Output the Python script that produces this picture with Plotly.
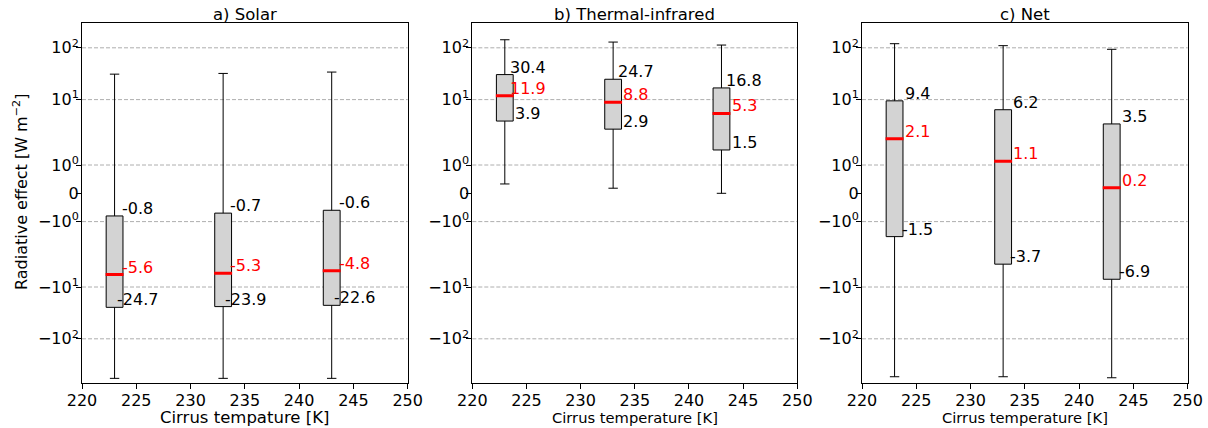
import numpy as np
import plotly.graph_objects as go

# ---------------- data ----------------
positions = [223, 233, 243]
panel_titles = ["a) Solar", "b) Thermal-infrared", "c) Net"]
xlabels = ["Cirrus tempature [K]", "Cirrus temperature [K]", "Cirrus temperature [K]"]
x_ticks = [220, 225, 230, 235, 240, 245, 250]
y_ticks = [-100, -10, -1, 0, 1, 10, 100]
y_ticktext = ["−10<sup>2</sup>", "−10<sup>1</sup>", "−10<sup>0</sup>", "0",
              "10<sup>0</sup>", "10<sup>1</sup>", "10<sup>2</sup>"]
grid_vals = [-100, -10, -1, 1, 10, 100]

solar_q1 = [-24.7, -23.9, -22.6]
solar_median = [-5.6, -5.3, -4.8]
solar_q3 = [-0.8, -0.7, -0.6]
solar_low = [-580, -580, -580]
solar_high = [31, 32, 34]

thermal_q1 = [3.9, 2.9, 1.5]
thermal_median = [11.9, 8.8, 5.3]
thermal_q3 = [30.4, 24.7, 16.8]
thermal_low = [0.33, 0.18, 0.0]
thermal_high = [143, 129, 113]

net_q1 = [-1.5, -3.7, -6.9]
net_median = [2.1, 1.1, 0.2]
net_q3 = [9.4, 6.2, 3.5]
net_low = [-540, -540, -565]
net_high = [120, 110, 93.5]

panels = [
    (solar_q1, solar_median, solar_q3, solar_low, solar_high),
    (thermal_q1, thermal_median, thermal_q3, thermal_low, thermal_high),
    (net_q1, net_median, net_q3, net_low, net_high),
]

# ---------------- custom symmetric-log-like scale ----------------
LIN = 28.3      # position of |v| = 1
P10 = 93.7      # position of |v| = 10
DEC = 51.8      # size of a decade above 10
EXP = -0.3      # shape inside the 1..10 decade


def T(v):
    v = np.asarray(v, dtype=float)
    s = np.sign(v)
    a = np.abs(v)
    out = np.where(
        a <= 1, LIN * a,
        np.where(
            a <= 10,
            LIN + (P10 - LIN) * (1 - np.power(np.maximum(a, 1e-9), EXP)) / (1 - 10 ** EXP),
            P10 + DEC * np.log10(np.maximum(a, 1e-9) / 10),
        ),
    )
    return (s * out).tolist()


W, H = 1208, 428


def px_x(p):
    return p / W


def px_y(p):
    return 1 - p / H


x_domains = [(px_x(82), px_x(407.7)), (px_x(472.3), px_x(797.3)), (px_x(862), px_x(1187.7))]
y_domain = (px_y(383.3), px_y(23.3))
y_range = [-190, 170]
FONT = "DejaVu Sans"
BOX_W = 1.55

fig = go.Figure()
annotations = []
shapes = []

for i, (q1, med, q3, lo, hi) in enumerate(panels):
    k = "" if i == 0 else str(i + 1)
    xa, ya = "x" + k, "y" + k
    fig.add_trace(go.Box(
        x=positions, q1=T(q1), median=T(med), q3=T(q3),
        lowerfence=T(lo), upperfence=T(hi),
        width=BOX_W, whiskerwidth=0.56,
        fillcolor="#d3d3d3", line=dict(color="black", width=1),
        boxpoints=False, showlegend=False, hoverinfo="skip",
        xaxis=xa, yaxis=ya,
    ))
    # red median lines
    mx, my = [], []
    for p, m in zip(positions, T(med)):
        mx += [p - BOX_W / 2 - 0.05, p + BOX_W / 2 + 0.05, None]
        my += [m, m, None]
    fig.add_trace(go.Scatter(x=mx, y=my, mode="lines",
                             line=dict(color="red", width=3),
                             showlegend=False, hoverinfo="skip",
                             xaxis=xa, yaxis=ya))
    # value labels
    for p, a_, m_, b_ in zip(positions, q3, med, q1):
        for val, col in ((a_, "black"), (m_, "red"), (b_, "black")):
            annotations.append(dict(
                x=p + 2.1, y=T([val])[0], xref=xa, yref=ya,
                text=f"{val:.1f}", showarrow=False,
                xanchor="center", yanchor="bottom", yshift=-4,
                font=dict(family=FONT, size=16, color=col),
            ))
    # grid lines (no line at 0)
    for gv in grid_vals:
        yy = T([gv])[0]
        shapes.append(dict(type="line", xref=xa + " domain", yref=ya,
                           x0=0, x1=1, y0=yy, y1=yy, layer="below",
                           line=dict(color="#999999", width=0.8, dash="4px,2px")))
    axis_common = dict(showline=True, mirror=True, linecolor="black", linewidth=1,
                       ticks="outside", ticklen=5, tickwidth=1, tickcolor="black",
                       showgrid=False, zeroline=False, automargin=False,
                       tickfont=dict(family=FONT, size=16, color="black"))
    fig.update_layout(**{
        ("xaxis" + k): dict(domain=list(x_domains[i]), range=[220, 250],
                            tickvals=x_ticks, anchor=ya, ticklabelstandoff=-3,
                            **axis_common),
        ("yaxis" + k): dict(domain=list(y_domain), range=y_range,
                            tickvals=T(y_ticks), ticktext=y_ticktext,
                            anchor=xa, ticklabelstandoff=-6, **axis_common),
    })
    cx = (x_domains[i][0] + x_domains[i][1]) / 2
    annotations.append(dict(x=cx, y=px_y(15), xref="paper", yref="paper",
                            text=panel_titles[i], showarrow=False,
                            xanchor="center", yanchor="middle",
                            font=dict(family=FONT, size=16.5, color="black")))
    annotations.append(dict(x=cx, y=px_y(417), xref="paper", yref="paper",
                            text=xlabels[i], showarrow=False,
                            xanchor="center", yanchor="middle",
                            font=dict(family=FONT, size=16.5 if i == 0 else 14.7,
                                      color="black")))

annotations.append(dict(x=px_x(20), y=px_y(192), xref="paper", yref="paper",
                        text="Radiative effect [W m<sup>−2</sup>]", showarrow=False,
                        textangle=-90, xanchor="center", yanchor="middle",
                        font=dict(family=FONT, size=16, color="black")))

fig.update_layout(width=W, height=H, margin=dict(l=0, r=0, t=0, b=0, autoexpand=False),
                  paper_bgcolor="white", plot_bgcolor="white",
                  annotations=annotations, shapes=shapes,
                  hovermode=False, boxmode="overlay")

fig.write_html("out.html", config={"displayModeBar": False},
               post_script="document.body.style.margin='0px';")
